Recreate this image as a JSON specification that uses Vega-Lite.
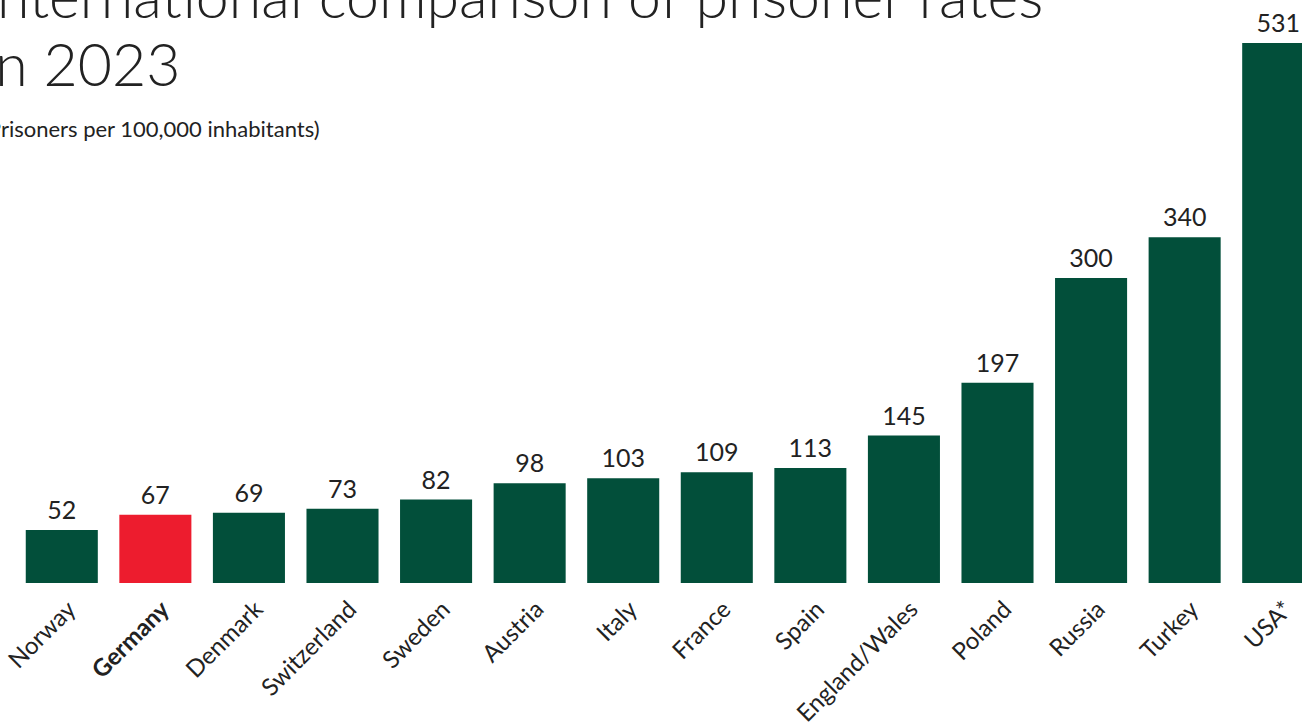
{
  "$schema": "https://vega.github.io/schema/vega-lite/v6.json",
  "width": 1287,
  "height": 540,
  "autosize": {"type": "none"},
  "padding": {"left": 15, "top": 43, "right": 0, "bottom": 142},
  "background": "white",
  "title": {
    "text": ["International comparison of prisoner rates", "in 2023"],
    "subtitle": "(Prisoners per 100,000 inhabitants)",
    "anchor": "start",
    "frame": "group",
    "font": "Lato",
    "fontSize": 59,
    "fontWeight": 300,
    "color": "#222222",
    "lineHeight": 68,
    "subtitleFont": "Lato",
    "subtitleFontSize": 22,
    "subtitleColor": "#222222",
    "subtitlePadding": 22,
    "dx": -33,
    "dy": 129,
    "offset": 0
  },
  "config": {"view": {"stroke": null}},
  "data": {
    "values": [
      {"country": "Norway", "rate": 52},
      {"country": "Germany", "rate": 67},
      {"country": "Denmark", "rate": 69},
      {"country": "Switzerland", "rate": 73},
      {"country": "Sweden", "rate": 82},
      {"country": "Austria", "rate": 98},
      {"country": "Italy", "rate": 103},
      {"country": "France", "rate": 109},
      {"country": "Spain", "rate": 113},
      {"country": "England/Wales", "rate": 145},
      {"country": "Poland", "rate": 197},
      {"country": "Russia", "rate": 300},
      {"country": "Turkey", "rate": 340},
      {"country": "USA*", "rate": 531}
    ]
  },
  "encoding": {
    "x": {
      "field": "country",
      "type": "nominal",
      "sort": null,
      "title": null,
      "scale": {"range": [0, 1310], "paddingInner": 0.23, "paddingOuter": 0.115},
      "axis": {
        "domain": false,
        "ticks": false,
        "labelAngle": -45,
        "labelFont": "Lato",
        "labelFontSize": 24,
        "labelColor": "#222222",
        "labelPadding": 14,
        "labelOffset": 2,
        "labelFontWeight": {"condition": {"test": "datum.value === 'Germany'", "value": "bold"}, "value": "normal"}
      }
    },
    "y": {
      "field": "rate",
      "type": "quantitative",
      "scale": {"domain": [0, 531], "nice": false, "zero": true},
      "axis": null
    }
  },
  "layer": [
    {
      "mark": {"type": "bar"},
      "encoding": {
        "color": {"condition": {"test": "datum.country === 'Germany'", "value": "#ed1c2e"}, "value": "#024f3a"}
      }
    },
    {
      "mark": {"type": "text", "baseline": "alphabetic", "dy": -11, "font": "Lato", "fontSize": 25, "color": "#222222"},
      "encoding": {
        "text": {"field": "rate", "type": "quantitative"},
        "fontWeight": {"condition": {"test": "datum.country === 'Germany'", "value": "bold"}, "value": "normal"}
      }
    }
  ]
}
